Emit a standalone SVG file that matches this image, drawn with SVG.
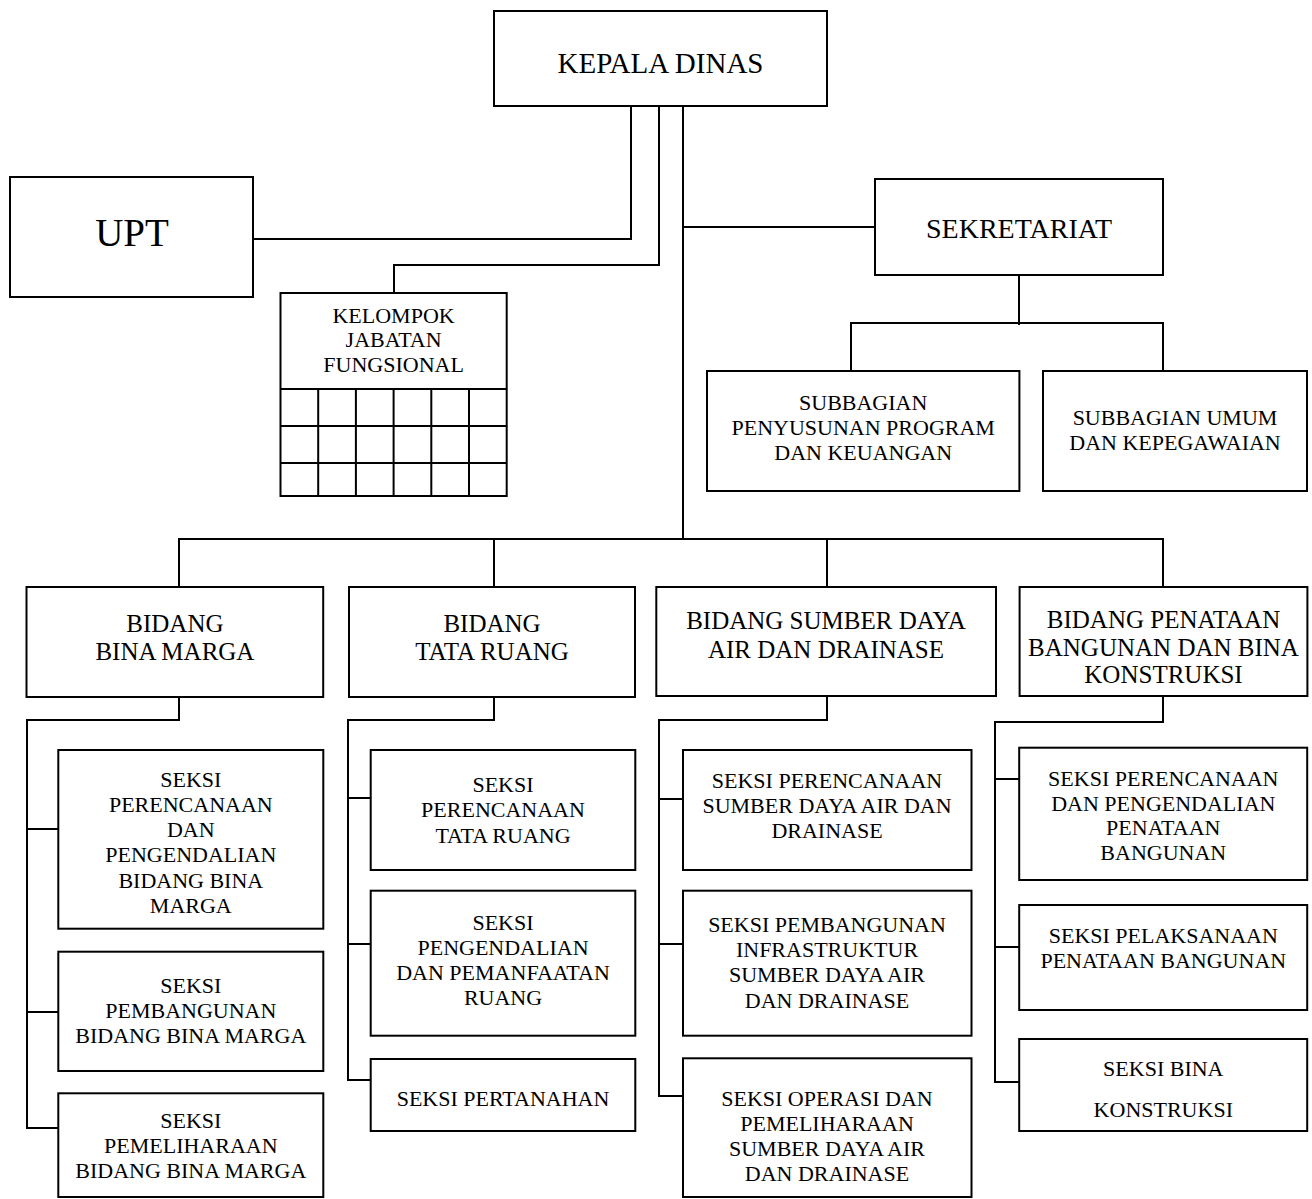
<svg xmlns="http://www.w3.org/2000/svg" width="1312" height="1199" viewBox="0 0 1312 1199">
<style>
.box{fill:#fff;stroke:#000;stroke-width:2}
.ln{fill:none;stroke:#000;stroke-width:2}
text{font-family:"Liberation Serif","Times New Roman",serif;fill:#000;text-anchor:middle}
.t29{font-size:29px}
.t39{font-size:39px}
.t28{font-size:28px}
.t25{font-size:25px}
.t22{font-size:22px}
</style>
<rect width="1312" height="1199" fill="#fff"/>
<g id="connectors" class="ln">
<polyline points="631,106 631,239 253,239"/>
<polyline points="659,106 659,265 394,265 394,293"/>
<polyline points="683,106 683,539"/>
<polyline points="683,227 875,227"/>
<polyline points="1019,275 1019,325"/>
<polyline points="851,371 851,323 1163,323 1163,371"/>
<polyline points="179,587 179,539 1163,539 1163,587"/>
<polyline points="494,539 494,587"/>
<polyline points="827,539 827,587"/>
<polyline points="179,697 179,720 27,720 27,1128 58,1128"/>
<polyline points="27,829 58,829"/>
<polyline points="27,1012 58,1012"/>
<polyline points="494,697 494,720 348,720 348,1080 371,1080"/>
<polyline points="348,798 371,798"/>
<polyline points="348,944 371,944"/>
<polyline points="827,696 827,720 659,720 659,1096 683,1096"/>
<polyline points="659,799 683,799"/>
<polyline points="659,944 683,944"/>
<polyline points="1163,696 1163,722 995,722 995,1082 1019,1082"/>
<polyline points="995,779 1019,779"/>
<polyline points="995,947 1019,947"/>
</g>
<g id="kepala-dinas">
<rect class="box" x="494" y="11" width="333" height="95"/>
<text class="t29" x="660.5" y="73">KEPALA DINAS</text>
</g>
<g id="upt">
<rect class="box" x="10" y="177" width="243" height="120"/>
<text class="t39" x="132" y="246">UPT</text>
</g>
<g id="kelompok-jabatan-fungsional">
<rect class="box" x="280.5" y="293" width="226.2" height="203"/>
<g class="ln">
<line x1="280.5" y1="389" x2="506.7" y2="389"/>
<line x1="280.5" y1="426" x2="506.7" y2="426"/>
<line x1="280.5" y1="463" x2="506.7" y2="463"/>
<line x1="318.2" y1="389" x2="318.2" y2="496"/>
<line x1="355.9" y1="389" x2="355.9" y2="496"/>
<line x1="393.6" y1="389" x2="393.6" y2="496"/>
<line x1="431.3" y1="389" x2="431.3" y2="496"/>
<line x1="469" y1="389" x2="469" y2="496"/>
</g>
<text class="t22" x="393.6" y="322.7">KELOMPOK</text>
<text class="t22" x="393.6" y="347">JABATAN</text>
<text class="t22" x="393.6" y="371.7">FUNGSIONAL</text>
</g>
<g id="sekretariat">
<rect class="box" x="875" y="179" width="288" height="96"/>
<text class="t28" x="1019" y="238">SEKRETARIAT</text>
</g>
<g id="subbagian-program-keuangan">
<rect class="box" x="707" y="371" width="312.4" height="120"/>
<text class="t22" x="863.2" y="410">SUBBAGIAN</text>
<text class="t22" x="863.2" y="434.5">PENYUSUNAN PROGRAM</text>
<text class="t22" x="863.2" y="460">DAN KEUANGAN</text>
</g>
<g id="subbagian-umum">
<rect class="box" x="1043" y="371" width="264" height="120"/>
<text class="t22" x="1175" y="425">SUBBAGIAN UMUM</text>
<text class="t22" x="1175" y="450">DAN KEPEGAWAIAN</text>
</g>
<g id="bidang-bina-marga">
<rect class="box" x="26.5" y="587" width="296.7" height="110"/>
<text class="t25" x="174.9" y="631.7">BIDANG</text>
<text class="t25" x="174.9" y="660">BINA MARGA</text>
</g>
<g id="bidang-tata-ruang">
<rect class="box" x="349" y="587" width="286" height="110"/>
<text class="t25" x="492" y="631.7">BIDANG</text>
<text class="t25" x="492" y="660">TATA RUANG</text>
</g>
<g id="bidang-sda">
<rect class="box" x="656.3" y="587" width="339.7" height="109"/>
<text class="t25" x="826" y="629">BIDANG SUMBER DAYA</text>
<text class="t25" x="826" y="658.3">AIR DAN DRAINASE</text>
</g>
<g id="bidang-penataan">
<rect class="box" x="1019.6" y="587" width="287.8" height="109"/>
<text class="t25" x="1163.5" y="628.3">BIDANG PENATAAN</text>
<text class="t25" x="1163.5" y="655.5">BANGUNAN DAN BINA</text>
<text class="t25" x="1163.5" y="682.7">KONSTRUKSI</text>
</g>
<g id="seksi-perencanaan-bm">
<rect class="box" x="58.3" y="750" width="265" height="178.7"/>
<text class="t22" x="190.8" y="787.3">SEKSI</text>
<text class="t22" x="190.8" y="812">PERENCANAAN</text>
<text class="t22" x="190.8" y="837">DAN</text>
<text class="t22" x="190.8" y="862.3">PENGENDALIAN</text>
<text class="t22" x="190.8" y="887.5">BIDANG BINA</text>
<text class="t22" x="190.8" y="913.3">MARGA</text>
</g>
<g id="seksi-pembangunan-bm">
<rect class="box" x="58.3" y="951.7" width="265" height="119.3"/>
<text class="t22" x="190.8" y="993.3">SEKSI</text>
<text class="t22" x="190.8" y="1018.3">PEMBANGUNAN</text>
<text class="t22" x="190.8" y="1043.3">BIDANG BINA MARGA</text>
</g>
<g id="seksi-pemeliharaan-bm">
<rect class="box" x="58.3" y="1093.3" width="265" height="103.7"/>
<text class="t22" x="190.8" y="1128.3">SEKSI</text>
<text class="t22" x="190.8" y="1152.8">PEMELIHARAAN</text>
<text class="t22" x="190.8" y="1178.3">BIDANG BINA MARGA</text>
</g>
<g id="seksi-perencanaan-tr">
<rect class="box" x="370.7" y="750" width="264.6" height="120"/>
<text class="t22" x="503" y="791.7">SEKSI</text>
<text class="t22" x="503" y="816.7">PERENCANAAN</text>
<text class="t22" x="503" y="842.5">TATA RUANG</text>
</g>
<g id="seksi-pengendalian-tr">
<rect class="box" x="370.7" y="890.7" width="264.6" height="145"/>
<text class="t22" x="503" y="930">SEKSI</text>
<text class="t22" x="503" y="955">PENGENDALIAN</text>
<text class="t22" x="503" y="980">DAN PEMANFAATAN</text>
<text class="t22" x="503" y="1005">RUANG</text>
</g>
<g id="seksi-pertanahan">
<rect class="box" x="370.7" y="1059" width="264.6" height="72"/>
<text class="t22" x="503" y="1105.7">SEKSI PERTANAHAN</text>
</g>
<g id="seksi-perencanaan-sda">
<rect class="box" x="683" y="750" width="288.5" height="120"/>
<text class="t22" x="827" y="788.3">SEKSI PERENCANAAN</text>
<text class="t22" x="827" y="813.3">SUMBER DAYA AIR DAN</text>
<text class="t22" x="827" y="838.3">DRAINASE</text>
</g>
<g id="seksi-pembangunan-sda">
<rect class="box" x="683" y="890.7" width="288.5" height="145"/>
<text class="t22" x="827" y="931.7">SEKSI PEMBANGUNAN</text>
<text class="t22" x="827" y="956.7">INFRASTRUKTUR</text>
<text class="t22" x="827" y="982.3">SUMBER DAYA AIR</text>
<text class="t22" x="827" y="1008.3">DAN DRAINASE</text>
</g>
<g id="seksi-operasi-sda">
<rect class="box" x="683" y="1058.3" width="288.5" height="138.7"/>
<text class="t22" x="827" y="1105.7">SEKSI OPERASI DAN</text>
<text class="t22" x="827" y="1130.7">PEMELIHARAAN</text>
<text class="t22" x="827" y="1155.7">SUMBER DAYA AIR</text>
<text class="t22" x="827" y="1181">DAN DRAINASE</text>
</g>
<g id="seksi-perencanaan-pb">
<rect class="box" x="1019.2" y="747.7" width="288" height="132.3"/>
<text class="t22" x="1163.3" y="786">SEKSI PERENCANAAN</text>
<text class="t22" x="1163.3" y="810.7">DAN PENGENDALIAN</text>
<text class="t22" x="1163.3" y="835">PENATAAN</text>
<text class="t22" x="1163.3" y="860">BANGUNAN</text>
</g>
<g id="seksi-pelaksanaan-pb">
<rect class="box" x="1019.2" y="905" width="288" height="105"/>
<text class="t22" x="1163.3" y="943.3">SEKSI PELAKSANAAN</text>
<text class="t22" x="1163.3" y="967.7">PENATAAN BANGUNAN</text>
</g>
<g id="seksi-bina-konstruksi">
<rect class="box" x="1019.2" y="1039" width="288" height="92"/>
<text class="t22" x="1163.3" y="1076">SEKSI BINA</text>
<text class="t22" x="1163.3" y="1116.7">KONSTRUKSI</text>
</g>
</svg>
